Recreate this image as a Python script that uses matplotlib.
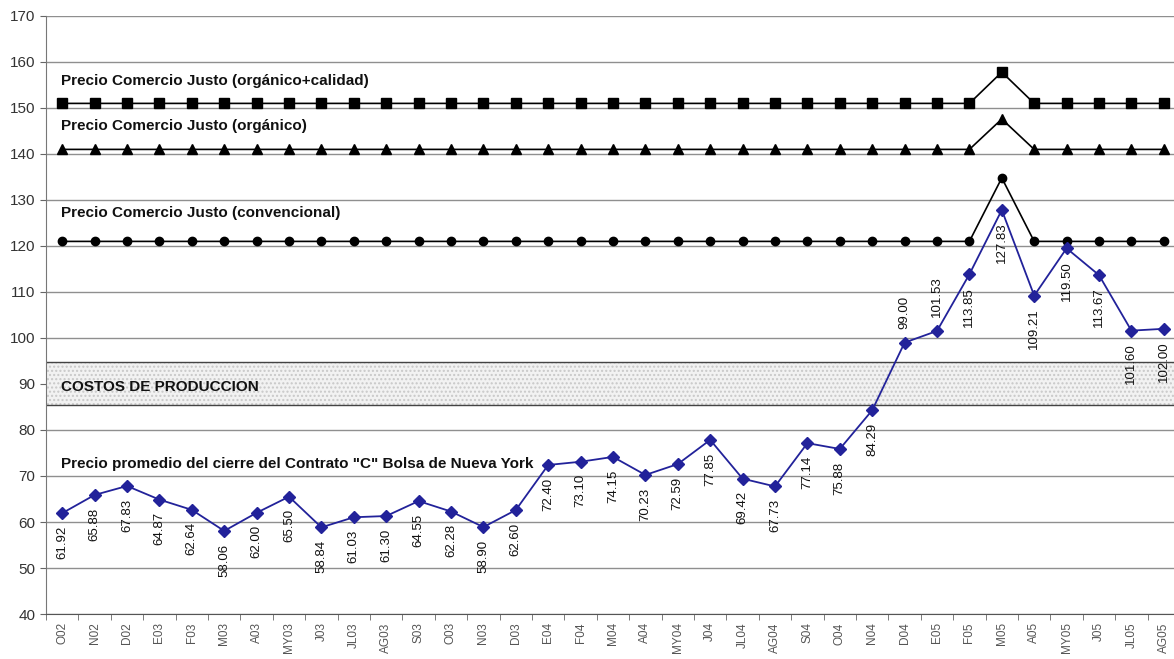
import matplotlib
matplotlib.use('Agg')
import matplotlib.pyplot as plt

# Meses (oct 2002 - ago 2005)
meses = ['O02', 'N02', 'D02', 'E03', 'F03', 'M03', 'A03', 'MY03', 'J03', 'JL03',
         'AG03', 'S03', 'O03', 'N03', 'D03', 'E04', 'F04', 'M04', 'A04', 'MY04',
         'J04', 'JL04', 'AG04', 'S04', 'O04', 'N04', 'D04', 'E05', 'F05', 'M05',
         'A05', 'MY05', 'J05', 'JL05', 'AG05']

# Precio promedio de cierre contrato "C" NY (cts/lb)
contrato_c = [61.92, 65.88, 67.83, 64.87, 62.64, 58.06, 62.00, 65.50, 58.84, 61.03,
              61.30, 64.55, 62.28, 58.90, 62.60, 72.40, 73.10, 74.15, 70.23, 72.59,
              77.85, 69.42, 67.73, 77.14, 75.88, 84.29, 99.00, 101.53, 113.85, 127.83,
              109.21, 119.50, 113.67, 101.60, 102.00]

# Precios Comercio Justo
cj_org_calidad = [151, 151, 151, 151, 151, 151, 151, 151, 151, 151,
                  151, 151, 151, 151, 151, 151, 151, 151, 151, 151,
                  151, 151, 151, 151, 151, 151, 151, 151, 151, 157.8,
                  151, 151, 151, 151, 151]
cj_organico = [141, 141, 141, 141, 141, 141, 141, 141, 141, 141,
               141, 141, 141, 141, 141, 141, 141, 141, 141, 141,
               141, 141, 141, 141, 141, 141, 141, 141, 141, 147.6,
               141, 141, 141, 141, 141]
cj_convencional = [121, 121, 121, 121, 121, 121, 121, 121, 121, 121,
                   121, 121, 121, 121, 121, 121, 121, 121, 121, 121,
                   121, 121, 121, 121, 121, 121, 121, 121, 121, 134.8,
                   121, 121, 121, 121, 121]

# Banda de costos de produccion
costo_min = 85.4
costo_max = 94.8

# Etiquetas que van encima del punto
arriba = ['D04', 'E05']

plt.rcParams['font.family'] = ['Liberation Sans', 'DejaVu Sans']

W, H = 1174, 659
fig = plt.figure(figsize=(W / 100, H / 100), dpi=100)
ax = fig.add_axes([46 / W, 45 / H, 1134 / W, 598 / H])

x = list(range(len(meses)))

# Banda de costos
ax.axhspan(costo_min, costo_max, facecolor='#f2f2f2', edgecolor='#c8c8c8',
           hatch='....', linewidth=0, zorder=1)
ax.axhline(costo_min, color='#444444', lw=1.0, zorder=2)
ax.axhline(costo_max, color='#444444', lw=1.0, zorder=2)

# Series
ax.plot(x, cj_org_calidad, color='black', lw=1.2, marker='s', ms=7, zorder=4)
ax.plot(x, cj_organico, color='black', lw=1.2, marker='^', ms=7, zorder=4)
ax.plot(x, cj_convencional, color='black', lw=1.2, marker='o', ms=6, zorder=4)
ax.plot(x, contrato_c, color='#22229a', lw=1.3, marker='D', ms=6, zorder=5)

# Valores rotados
for xi, mes, v in zip(x, meses, contrato_c):
    if mes in arriba:
        ax.annotate(f'{v:.2f}', (xi, v), xytext=(0, 10), textcoords='offset points',
                    rotation=90, ha='center', va='bottom', fontsize=9.5, color='#111111', zorder=6)
    else:
        ax.annotate(f'{v:.2f}', (xi, v), xytext=(0, -9), textcoords='offset points',
                    rotation=90, ha='center', va='top', fontsize=9.5, color='#111111', zorder=6)

# Rotulos de las series
rot = dict(fontsize=11, fontweight='bold', color='#111111',
           ha='left', va='center', zorder=7)
ax.text(-0.05, 155.9, 'Precio Comercio Justo (orgánico+calidad)', **rot)
ax.text(-0.05, 146.1, 'Precio Comercio Justo (orgánico)', **rot)
ax.text(-0.05, 127.2, 'Precio Comercio Justo (convencional)', **rot)
ax.text(-0.05, 72.6, 'Precio promedio del cierre del Contrato "C" Bolsa de Nueva York', **rot)
ax.text(-0.05, 89.3, 'COSTOS DE PRODUCCION', **rot)

# Ejes
ax.set_xlim(-0.5, len(meses) - 0.5)
ax.set_ylim(40, 170)
ax.set_yticks(range(40, 171, 10))
ax.set_xticks(x)
ax.set_xticklabels(meses, rotation=90, fontsize=8.5, color='#555555')
ax.set_xticks([i - 0.5 for i in range(len(meses) + 1)], minor=True)
ax.tick_params(axis='x', which='major', length=0, pad=6)
ax.tick_params(axis='x', which='minor', length=4, color='#666666')
ax.tick_params(axis='y', length=4, color='#666666', labelsize=11, labelcolor='#333333')
ax.yaxis.grid(True, color='#8f8f8f', lw=1.0, zorder=0)
ax.set_axisbelow(True)
for s in ['top', 'right']:
    ax.spines[s].set_visible(False)
ax.spines['left'].set_color('#777777')
ax.spines['bottom'].set_color('#555555')

fig.savefig('out.png', dpi=100)
